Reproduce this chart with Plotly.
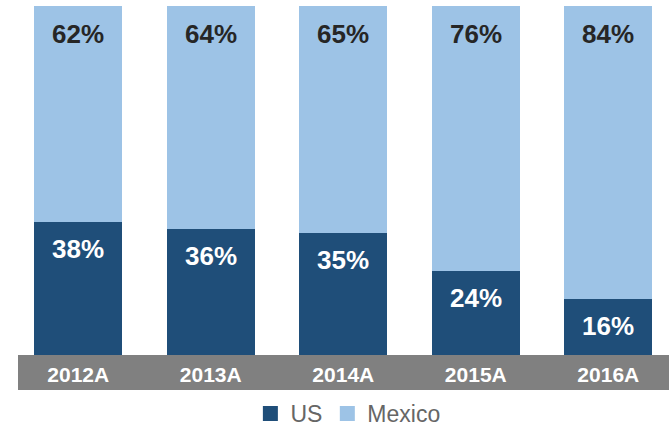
import plotly.graph_objects as go

categories = ["2012A", "2013A", "2014A", "2015A", "2016A"]
us_values = [38, 36, 35, 24, 16]
mexico_values = [62, 64, 65, 76, 84]
series_names = ["US", "Mexico"]

US_COLOR = "#1F4E79"
MX_COLOR = "#9DC3E6"
FONT = "Liberation Sans, Arial, sans-serif"

fig = go.Figure()
fig.add_trace(go.Bar(x=categories, y=us_values, name=series_names[0], showlegend=False,
                     marker=dict(color=US_COLOR, line=dict(width=0)), width=0.664))
fig.add_trace(go.Bar(x=categories, y=mexico_values, name=series_names[1], showlegend=False,
                     marker=dict(color=MX_COLOR, line=dict(width=0)), width=0.664))
# legend entries with larger square swatches
for name, col in zip(series_names, [US_COLOR, MX_COLOR]):
    fig.add_trace(go.Scatter(x=[None], y=[None], mode="markers", name=name,
                             marker=dict(symbol="square", size=15, color=col)))

annotations = []
for c, u, m in zip(categories, us_values, mexico_values):
    annotations.append(dict(x=c, y=u, text=f"<b>{u}%</b>", showarrow=False,
                            yanchor="middle", yshift=-27,
                            font=dict(family=FONT, size=26, color="white")))
    annotations.append(dict(x=c, y=u + m, text=f"<b>{m}%</b>", showarrow=False,
                            yanchor="middle", yshift=-28,
                            font=dict(family=FONT, size=26, color="#262626")))

fig.update_layout(
    barmode="stack",
    width=669, height=435,
    margin=dict(l=12, r=0, t=6, b=80),
    plot_bgcolor="white", paper_bgcolor="white",
    xaxis=dict(range=[-0.5, 4.458], showgrid=False, zeroline=False, showline=False,
               ticks="", ticklabelstandoff=5, automargin=False,
               tickfont=dict(family=FONT, size=21, color="white"),
               tickvals=categories, ticktext=[f"<b>{c}</b>" for c in categories]),
    yaxis=dict(range=[0, 100], visible=False, automargin=False),
    shapes=[dict(type="rect", xref="paper", yref="paper", x0=0.00913, x1=1,
                 y0=-0.1003, y1=0, fillcolor="#808080", line=dict(width=0), layer="below")],
    annotations=annotations,
    legend=dict(orientation="h", xref="container", yref="container",
                x=0.52, xanchor="center", y=-0.014, yanchor="bottom",
                font=dict(family=FONT, size=23, color="#666666"), traceorder="normal",
                itemwidth=30),
    showlegend=True,
)

fig.write_html("out.html", config={"displayModeBar": False},
               post_script="document.body.style.margin='0';")
